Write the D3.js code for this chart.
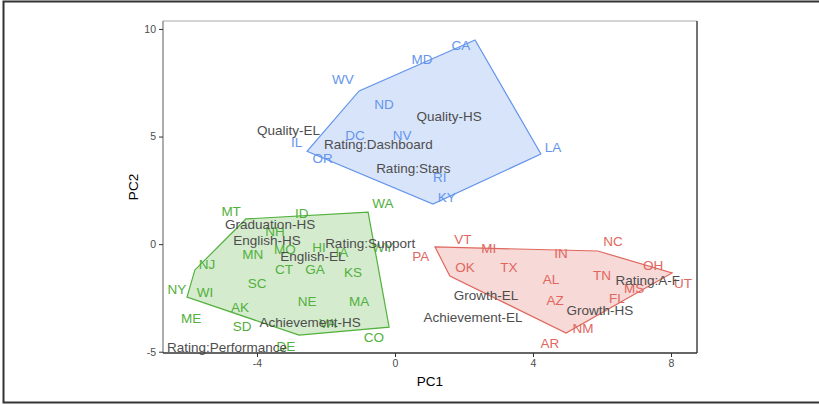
<!DOCTYPE html>
<html>
<head>
<meta charset="utf-8">
<script src="https://cdn.jsdelivr.net/npm/d3@7/dist/d3.min.js"></script>
<style>
  html, body { margin: 0; padding: 0; background: #fff; }
  svg { display: block; font-family: "Liberation Sans", Arial, Helvetica, sans-serif; }
</style>
</head>
<body>
<svg id="chart" width="819" height="405"></svg>
<script>
// ---- data (label positions in PC units) ----
const states  = ["CA","MD","WV","ND","DC","NV","IL","LA","OR","RI","KY",
                 "WA","MT","ID","NH","HI","IA","WY","MN","MO","NJ","CT","GA","KS","SC","NY","WI","NE","MA","AK","ME","VA","SD","CO","DE",
                 "VT","PA","MI","NC","IN","OK","TX","OH","TN","AL","UT","MS","FL","AZ","NM","AR"];
const cluster = ["3","3","3","3","3","3","3","3","3","3","3",
                 "2","2","2","2","2","2","2","2","2","2","2","2","2","2","2","2","2","2","2","2","2","2","2","2",
                 "1","1","1","1","1","1","1","1","1","1","1","1","1","1","1","1"];
const pc1 = [1.91,0.78,-1.51,-0.32,-1.16,0.21,-2.85,4.58,-2.10,1.30,1.50,
             -0.35,-4.75,-2.70,-3.48,-2.20,-1.54,-0.35,-4.12,-3.19,-5.45,-3.22,-2.32,-1.22,-4.00,-6.32,-5.51,-2.55,-1.04,-4.49,-5.91,-1.95,-4.43,-0.61,-3.16,
             1.97,0.75,2.72,6.32,4.81,2.03,3.30,7.48,6.00,4.52,8.35,6.93,6.43,4.64,5.45,4.49];
const pc2 = [9.26,8.61,7.66,6.51,5.07,5.07,4.76,4.51,3.99,3.11,2.20,
             1.91,1.54,1.45,0.61,-0.14,-0.37,-0.13,-0.46,-0.23,-0.93,-1.16,-1.16,-1.30,-1.81,-2.09,-2.23,-2.65,-2.65,-2.93,-3.44,-3.67,-3.80,-4.32,-4.74,
             0.24,-0.55,-0.18,0.14,-0.41,-1.06,-1.06,-0.97,-1.44,-1.62,-1.81,-2.05,-2.51,-2.61,-3.90,-4.60];

// variable (loading) labels
const loadings = ["Quality-HS","Quality-EL","Rating:Dashboard","Rating:Stars","Graduation-HS","English-HS","Rating:Support","English-EL",
                  "Achievement-HS","Rating:Performance","Growth-EL","Achievement-EL","Growth-HS","Rating:A-F"];
const loadX = [1.57,-3.09,-0.48,0.53,-3.62,-3.71,-0.72,-2.38,-2.46,-4.87,2.64,2.26,5.94,7.33];
const loadY = [5.96,5.30,4.65,3.52,0.93,0.19,0.05,-0.55,-3.62,-4.79,-2.37,-3.40,-3.07,-1.68];

// convex hull vertices of each cluster's points (PC units)
const hullBlue  = [[2.32,9.49],[-1.04,7.12],[-2.55,4.31],[1.10,1.86],[4.23,4.19]];
const hullGreen = [[-4.32,1.17],[-0.78,1.49],[-0.17,-3.86],[-2.78,-4.23],[-6.03,-2.46],[-5.80,-1.20]];
const hullRed   = [[1.16,-0.13],[5.88,-0.32],[8.03,-1.34],[4.96,-4.13],[1.59,-1.48]];

const xTicks = [-4, 0, 4, 8];
const yTicks = [-5, 0, 5, 10];

const colors = {"1": "#E0675F", "2": "#52B03C", "3": "#6495ED"};

// ---- layout ----
const svg = d3.select("#chart");
const L = 163, R = 697, T = 21, B = 353;
const x = d3.scaleLinear().domain([-6.725, 8.754]).range([L, R]);
const y = d3.scaleLinear().domain([-5.06, 10.37]).range([B, T]);

// outer frame (left, top, bottom)
svg.append("path")
  .attr("d", `M821,1.5 H3.5 V402.5 H821`)
  .attr("fill", "none").attr("stroke", "#333").attr("stroke-width", 2);

// hulls
const hulls = [[hullBlue, "3"], [hullGreen, "2"], [hullRed, "1"]];
const line = d3.line().x(d => x(d[0])).y(d => y(d[1])).curve(d3.curveLinearClosed);
svg.append("g").selectAll("path").data(hulls).join("path")
  .attr("d", d => line(d[0]))
  .attr("fill", d => colors[d[1]]).attr("fill-opacity", 0.25)
  .attr("stroke", d => colors[d[1]]).attr("stroke-width", 1.2);

// state labels
const sdata = states.map((s, i) => ({s, c: cluster[i], x: pc1[i], y: pc2[i]}));
svg.append("g").selectAll("text").data(sdata).join("text")
  .attr("x", d => x(d.x)).attr("y", d => y(d.y)).attr("dy", "0.36em")
  .attr("text-anchor", "middle").attr("font-size", 13.5)
  .attr("fill", d => colors[d.c]).text(d => d.s);

// loading labels
const ldata = loadings.map((s, i) => ({s, x: loadX[i], y: loadY[i]}));
svg.append("g").selectAll("text").data(ldata).join("text")
  .attr("x", d => x(d.x)).attr("y", d => y(d.y)).attr("dy", "0.36em")
  .attr("text-anchor", "middle").attr("font-size", 13.5)
  .attr("fill", "#4d4d4d").text(d => d.s);

// panel border
svg.append("line").attr("x1", L).attr("x2", R).attr("y1", T).attr("y2", T).attr("stroke", "#aaa").attr("stroke-width", 1.2);
svg.append("line").attr("x1", L).attr("x2", L).attr("y1", T).attr("y2", B).attr("stroke", "#777").attr("stroke-width", 1.2);
svg.append("line").attr("x1", R).attr("x2", R).attr("y1", T).attr("y2", B).attr("stroke", "#444").attr("stroke-width", 1.5);
svg.append("line").attr("x1", L).attr("x2", R).attr("y1", B).attr("y2", B).attr("stroke", "#333").attr("stroke-width", 1.5);

// axes
const xAxis = d3.axisBottom(x).tickValues(xTicks).tickSize(4).tickPadding(3).tickFormat(d => String(d));
const yAxis = d3.axisLeft(y).tickValues(yTicks).tickSize(4).tickPadding(3).tickFormat(d => String(d));
const gx = svg.append("g").attr("transform", `translate(0,${B})`).call(xAxis);
const gy = svg.append("g").attr("transform", `translate(${L},0)`).call(yAxis);
[gx, gy].forEach(g => {
  g.select(".domain").remove();
  g.selectAll(".tick line").attr("stroke", "#333");
  g.selectAll(".tick text").attr("fill", "#4d4d4d").attr("font-size", 10.5)
    .attr("font-family", "Liberation Sans, Arial, sans-serif");
});

// axis titles
svg.append("text").attr("x", (L + R) / 2).attr("y", 386)
  .attr("text-anchor", "middle").attr("font-size", 13.5).attr("fill", "#000").text("PC1");
svg.append("text").attr("transform", `translate(138,${(T + B) / 2}) rotate(-90)`)
  .attr("text-anchor", "middle").attr("font-size", 13.5).attr("fill", "#000").text("PC2");
</script>
</body>
</html>
